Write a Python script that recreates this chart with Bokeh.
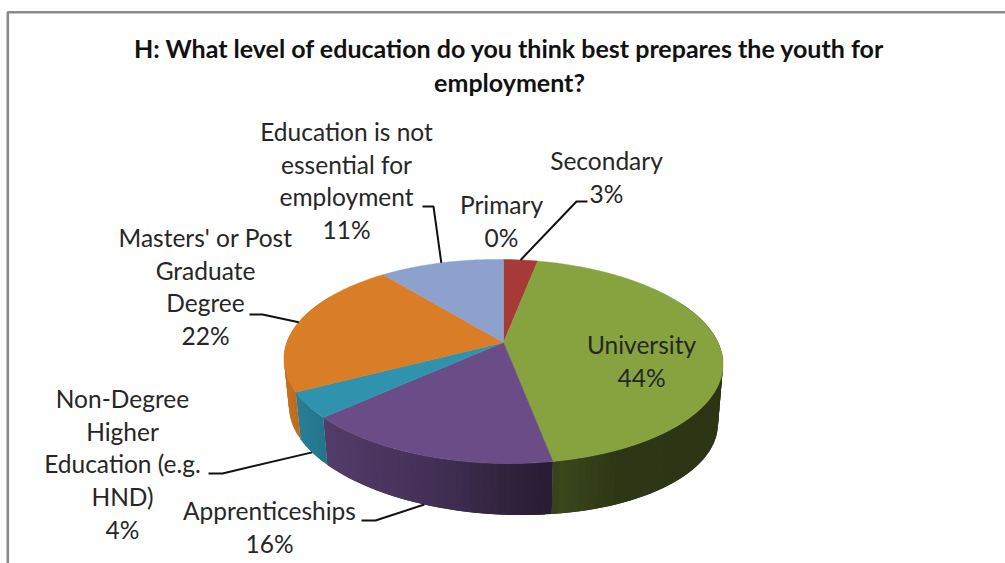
import numpy as np
from bokeh.plotting import figure
from bokeh.core.properties import value
from bokeh.embed import file_html
from bokeh.resources import INLINE

# Survey answers, clockwise from twelve o'clock
categories = ["Primary", "Secondary", "University", "Apprenticeships",
              "Non-Degree Higher Education (e.g. HND)",
              "Masters' or Post Graduate Degree",
              "Education is not essential for employment"]
percentages = [0, 3, 44, 16, 4, 22, 11]
top_colors = ["#4f81bd", "#a63a37", "#86a33f", "#6a4c86", "#2f93ad", "#d97d27", "#8ca2cd"]

title_lines = ["H: What level of education do you think best prepares the youth for",
               "employment?"]

# Pixel layout of the tilted pie
WIDTH, HEIGHT = 1005, 563
APEX_X, APEX_Y = 503.0, 342.0
RADIUS_X, RADIUS_Y = 215.7, 98.5
TILT = 0.186
DEPTH = 54.0
FLOOR_SCALE = 0.977
TOP_SKEW = 0.012
FLOOR_SKEW = 0.028
LINE_HEIGHT = 32.7


def project(fraction, lower=False):
    """Place a position around the pie (0-1, clockwise) on the page with perspective."""
    theta = 2 * np.pi * np.asarray(fraction, dtype=float)
    s, c = np.sin(theta), np.cos(theta)
    w = 1 + TILT * c
    scale = FLOOR_SCALE if lower else 1.0
    shift = DEPTH if lower else 0.0
    skew = TOP_SKEW + (FLOOR_SKEW if lower else 0.0)
    x = APEX_X + scale * RADIUS_X * s / w
    return x, APEX_Y + shift - scale * RADIUS_Y * c / w + skew * (x - APEX_X)


def shade(color, factor):
    r, g, b = (int(color[i:i + 2], 16) for i in (1, 3, 5))
    return "#%02x%02x%02x" % (int(r * factor), int(g * factor), int(b * factor))


p = figure(width=WIDTH, height=HEIGHT, x_range=(0, WIDTH), y_range=(HEIGHT, 0),
           output_backend="svg", toolbar_location=None, min_border=0,
           background_fill_color="white", border_fill_color="white",
           outline_line_color=None)
p.axis.visible = False
p.grid.visible = False

# Chart frame: only the top and left edges fall inside the page
p.line([7.3, 7.3, WIDTH], [HEIGHT, 11.7, 11.7], line_color="#8a8a8a", line_width=2.6)

fractions = np.array(percentages, dtype=float) / sum(percentages)
ends = np.cumsum(fractions)
starts = ends - fractions

# Rim of the pie, as overlapping thin strips that darken toward the right
shade_x = [283, 320, 440, 548, 560, 620, 722]
shade_f = [0.90, 0.80, 0.62, 0.37, 0.44, 0.34, 0.33]
for start, end, color in zip(starts, ends, top_colors):
    if end <= start:
        continue
    steps = max(2, int((end - start) * 240))
    edge = np.linspace(start, end, steps + 1)
    tx, ty = project(edge)
    bx, by = project(edge, lower=True)
    for i in range(steps):
        if np.cos(2 * np.pi * edge[i]) > 0.45 and np.cos(2 * np.pi * edge[i + 1]) > 0.45:
            continue
        j = min(i + 2, steps)
        factor = np.interp((tx[i] + tx[i + 1]) / 2, shade_x, shade_f)
        p.patch([tx[i], tx[j], bx[j], bx[i]], [ty[i], ty[j], by[j], by[i]],
                fill_color=shade(color, factor), line_color=None)

# Top face of each slice
for start, end, color in zip(starts, ends, top_colors):
    if end <= start:
        continue
    arc = np.linspace(start, end, max(3, int((end - start) * 360)))
    ax, ay = project(arc)
    p.patch(np.r_[APEX_X, ax], np.r_[APEX_Y, ay], fill_color=color, line_color=color, line_width=0.5)

mids = (starts + ends) / 2

# Leader lines run from beside each label to the middle of its slice
leaders = [
    (1, (587, 201), (576, 201), False),
    (6, (422, 206), (433, 206), False),
    (5, (249, 314), (262, 314), False),
    (4, (208, 473), (222, 473), True),
    (3, (361, 520), (375, 520), True),
]
for idx, start_pt, elbow, lower in leaders:
    ex, ey = project(mids[idx], lower=lower)
    p.line([start_pt[0], elbow[0], float(ex)], [start_pt[1], elbow[1], float(ey)],
           line_color="#111111", line_width=2)

# Labels: one text per line, centred
label_blocks = [
    (346, 131, ["Education is not", "essential for", "employment", f"{percentages[6]}%"]),
    (606, 160, ["Secondary", f"{percentages[1]}%"]),
    (501, 204, ["Primary", f"{percentages[0]}%"]),
    (205, 237, ["Masters' or Post", "Graduate", "Degree", f"{percentages[5]}%"]),
    (641, 344, ["University", f"{percentages[2]}%"]),
    (122, 398, ["Non-Degree", "Higher", "Education (e.g.", "HND)", f"{percentages[4]}%"]),
    (269, 510, ["Apprenticeships", f"{percentages[3]}%"]),
]
for cx, y0, lines in label_blocks:
    p.text([cx] * len(lines), [y0 + i * LINE_HEIGHT for i in range(len(lines))], text=lines,
           text_font=value("Lato"), text_font_size="24.5px", text_color="#262626",
           text_align="center", text_baseline="middle")

p.text([509, 509], [47, 81], text=title_lines, text_font=value("Lato"),
       text_font_size="25px", text_font_style="bold", text_color="#111111",
       text_align="center", text_baseline="middle")

open("out.html", "w").write(file_html(p, INLINE))
